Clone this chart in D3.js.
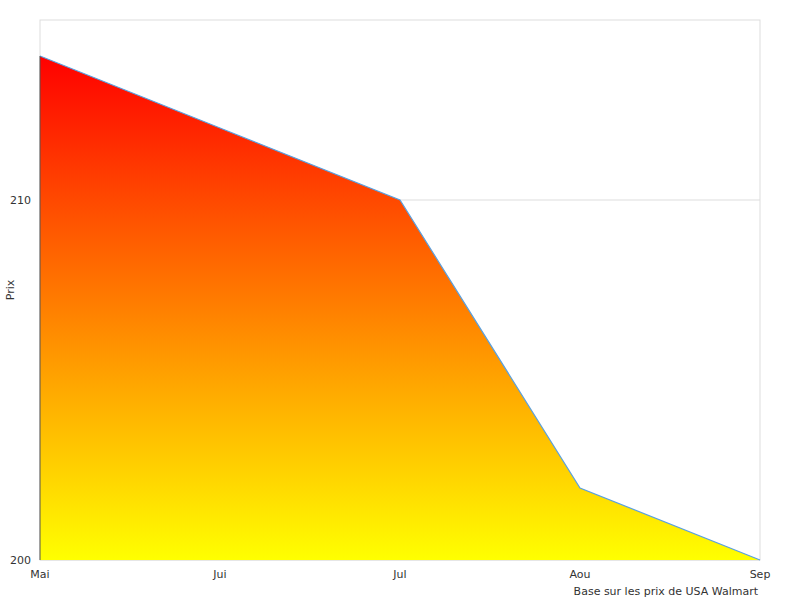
<!DOCTYPE html>
<html><head><meta charset="utf-8">
<script src="https://cdn.jsdelivr.net/npm/d3@7"></script>
<style>body{margin:0;background:#fff}text{font-family:"DejaVu Sans",sans-serif;font-size:11px;fill:#333}</style>
</head><body><svg id="c" width="800" height="600"></svg>
<script>
const months = ["Mai","Jui","Jul","Aou","Sep"];
const prices = [214, 212, 210, 202, 200];
const yTicks = [200, 210];
const svg = d3.select("#c");
const L=40,R=760,T=20,B=560;
const x = d3.scalePoint().domain(months).range([L,R]);
const y = d3.scaleLinear().domain([200,215]).range([B,T]);
const defs = svg.append("defs");
const g = defs.append("linearGradient").attr("id","gr").attr("x1",0).attr("y1",0).attr("x2",0).attr("y2",1);
g.append("stop").attr("offset","0%").attr("stop-color","#ff0000");
g.append("stop").attr("offset","100%").attr("stop-color","#ffff00");
svg.append("rect").attr("x",L).attr("y",T).attr("width",R-L).attr("height",B-T).attr("fill","none").attr("stroke","#ddd");
yTicks.forEach(t=>{
  svg.append("line").attr("x1",L).attr("x2",R).attr("y1",y(t)).attr("y2",y(t)).attr("stroke","#ddd");
  svg.append("text").attr("x",L-9).attr("y",y(t)+4).attr("text-anchor","end").text(t);
});
const data = months.map((m,i)=>({m,v:prices[i]}));
const topY = d3.min(data,d=>y(d.v));
g.attr("gradientUnits","userSpaceOnUse").attr("y1",topY).attr("y2",B).attr("x2",0);
svg.append("path").datum(data).attr("fill","url(#gr)")
  .attr("d",d3.area().x(d=>x(d.m)).y0(B).y1(d=>y(d.v)));
svg.append("path").datum(data).attr("fill","none").attr("stroke","#5aa0e0").attr("stroke-width",1.2)
  .attr("d",d3.line().x(d=>x(d.m)).y(d=>y(d.v)));
svg.append("line").attr("x1",L).attr("x2",L).attr("y1",y(prices[0])).attr("y2",B).attr("stroke","#555");
months.forEach(m=>svg.append("text").attr("x",x(m)).attr("y",578).attr("text-anchor","middle").text(m));
svg.append("text").attr("x",758).attr("y",595).attr("text-anchor","end").text("Base sur les prix de USA Walmart");
svg.append("text").attr("transform","translate(14,290) rotate(-90)").attr("text-anchor","middle").text("Prix");
</script></body></html>
